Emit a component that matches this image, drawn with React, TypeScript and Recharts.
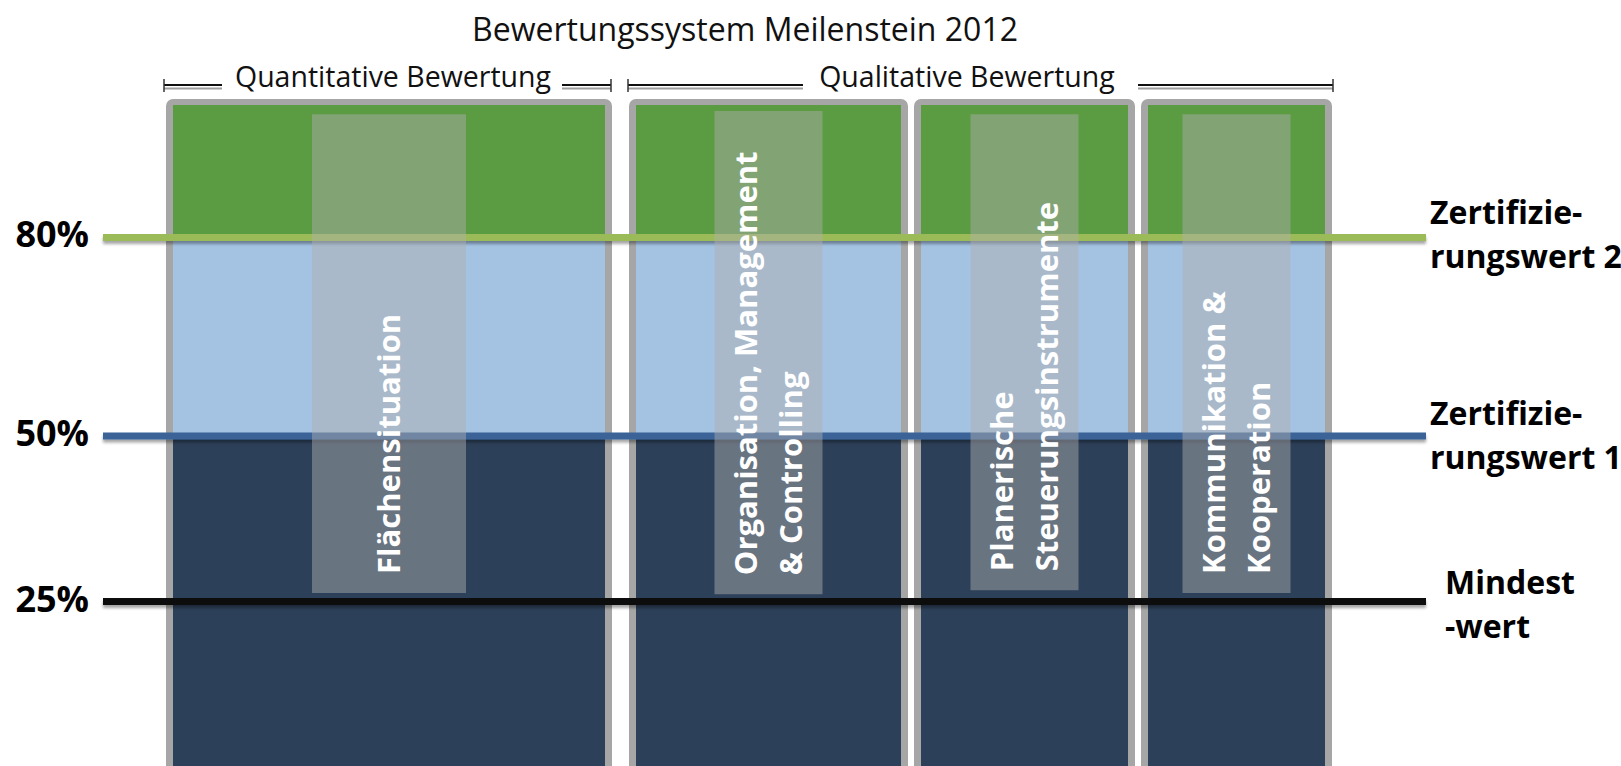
import React from "react";
import { ComposedChart, XAxis, YAxis, ReferenceArea, ReferenceLine, Rectangle } from "recharts";

// ---- chart content ----
const title = "Bewertungssystem Meilenstein 2012";
const groupNames = ["Quantitative Bewertung", "Qualitative Bewertung"];
const categories = [
  ["Flächensituation"],
  ["Organisation, Management", "& Controlling"],
  ["Planerische", "Steuerungsinstrumente"],
  ["Kommunikation &", "Kooperation"],
];
// score bands (percent)
const bandFrom = [0, 50, 80];
const bandTo = [50, 80, 100];
const bandColors = ["#2d4059", "#a4c3e3", "#5b9b42"];
// thresholds
const thresholdValues = [80, 50, 25];
const thresholdTicks = ["80%", "50%", "25%"];
const thresholdNames = [
  ["Zertifizie-", "rungswert 2"],
  ["Zertifizie-", "rungswert 1"],
  ["Mindest", "-wert"],
];
const thresholdColors = ["#9bbb59", "#3b6397", "#0a0a0a"];

// ---- layout (x axis in px units, y axis in percent) ----
const W = 1621;
const H = 767;
const TOP = 105;
const FONT = "'Open Sans', sans-serif";
const columnSpans = [[166, 612], [629, 908], [914, 1135], [1141, 1332]];
const FRAME = 7;
const FRAME_TOP = 100.9;
const labelBoxWidth = [154, 108, 108, 108];
const labelBoxTop = [98.6, 99.1, 98.6, 98.6];
const labelBoxBottom = [26.3, 26.1, 26.7, 26.3];
const lineSpan = [103, 1426];
const nameIndent = [4, 4, 19];
const nameRaise = [13, 11, 8];
const headerCenters = [393, 967];
const brackets = [
  [[164, 222], [562, 611]],
  [[628, 803], [1138, 1333]],
];

const frameShape = (p: any) => <Rectangle {...p} radius={[7, 7, 0, 0]} />;

function RotatedLabel(props: any) {
  const { viewBox, lines } = props;
  if (!viewBox) return null;
  const cx = viewBox.x + viewBox.width / 2;
  const y0 = viewBox.y + viewBox.height - 19;
  const cap = 22;
  const lh = 45;
  const first = cx - (cap + (lines.length - 1) * lh) / 2 + cap;
  return (
    <g fill="#fff" fontFamily={FONT} fontWeight={700} fontSize={31}>
      {lines.map((t: string, k: number) => {
        const x = first + k * lh;
        return (
          <text key={k} x={x} y={y0} transform={`rotate(-90 ${x} ${y0})`}>
            {t}
          </text>
        );
      })}
    </g>
  );
}

function ThresholdLabel(props: any) {
  const { viewBox, i } = props;
  if (!viewBox) return null;
  const { x, y, width } = viewBox;
  const nx = x + width + nameIndent[i];
  const ny = y - nameRaise[i];
  return (
    <g fontFamily={FONT} fontWeight={700} fill="#000">
      <text x={x - 14} y={y + 10} fontSize={36} textAnchor="end">
        {thresholdTicks[i]}
      </text>
      <text x={nx} y={ny} fontSize={32}>
        {thresholdNames[i].map((t, k) => (
          <tspan key={k} x={nx} dy={k === 0 ? 0 : 44}>
            {t}
          </tspan>
        ))}
      </text>
    </g>
  );
}

export default function App() {
  return (
    <div style={{ position: "absolute", left: 0, top: 0, width: 1621, height: 766, overflow: "hidden", background: "#fff" }}>
      <ComposedChart width={W} height={H} data={[{ x: 0 }, { x: W }]} margin={{ top: TOP, right: 0, bottom: 0, left: 0 }}>
        <defs>
          <filter id="lineShadow" filterUnits="userSpaceOnUse" x={0} y={0} width={W} height={H}>
            <feDropShadow dx={0} dy={3} stdDeviation={1.5} floodColor="#000" floodOpacity={0.35} />
          </filter>
        </defs>
        <XAxis dataKey="x" type="number" domain={[0, W]} hide allowDataOverflow />
        <YAxis type="number" domain={[0, 100]} hide allowDataOverflow />

        {/* column frames */}
        {columnSpans.map((s, c) => (
          <ReferenceArea key={`f${c}`} x1={s[0]} x2={s[1]} y1={-3} y2={FRAME_TOP} fill="#a6a6a6" fillOpacity={1}
            stroke="none" ifOverflow="visible" shape={frameShape} />
        ))}
        {/* score bands */}
        {columnSpans.map((s, c) =>
          bandFrom.map((b, k) => (
            <ReferenceArea key={`b${c}-${k}`} x1={s[0] + FRAME} x2={s[1] - FRAME} y1={k === 0 ? -3 : b} y2={bandTo[k]}
              fill={bandColors[k]} fillOpacity={1} stroke="none" ifOverflow="visible" />
          ))
        )}
        {/* thresholds */}
        {thresholdValues.map((v, i) => (
          <ReferenceLine key={`t${i}`} segment={[{ x: lineSpan[0], y: v }, { x: lineSpan[1], y: v }]} stroke={thresholdColors[i]}
            strokeWidth={7} filter="url(#lineShadow)" ifOverflow="visible"
            label={(p: any) => <ThresholdLabel {...p} i={i} />} />
        ))}
        {/* category label boxes */}
        {columnSpans.map((s, c) => {
          const mid = (s[0] + s[1]) / 2;
          return (
            <ReferenceArea key={`l${c}`} x1={mid - labelBoxWidth[c] / 2} x2={mid + labelBoxWidth[c] / 2}
              y1={labelBoxBottom[c]} y2={labelBoxTop[c]} fill="#aeaeae" fillOpacity={0.47} stroke="none"
              ifOverflow="visible" zIndex={450}
              label={(p: any) => <RotatedLabel {...p} lines={categories[c]} />} />
          );
        })}

        {/* title and group headers */}
        <text x={745} y={41} textAnchor="middle" fontFamily={FONT} fontSize={32} fill="#111">
          {title}
        </text>
        {groupNames.map((g, k) => (
          <g key={`g${k}`}>
            <text x={headerCenters[k]} y={87} textAnchor="middle" fontFamily={FONT} fontSize={28.5} fill="#111">
              {g}
            </text>
            {brackets[k].map((seg, j) => (
              <g key={j}>
                <line x1={seg[0]} x2={seg[1]} y1={88.5} y2={88.5} stroke="#a0a0a0" strokeWidth={2} />
                <line x1={seg[0]} x2={seg[1]} y1={85} y2={85} stroke="#111" strokeWidth={2} />
              </g>
            ))}
            <line x1={brackets[k][0][0]} x2={brackets[k][0][0]} y1={79} y2={92} stroke="#333" strokeWidth={1.5} />
            <line x1={brackets[k][1][1]} x2={brackets[k][1][1]} y1={79} y2={92} stroke="#333" strokeWidth={1.5} />
          </g>
        ))}
      </ComposedChart>
    </div>
  );
}
